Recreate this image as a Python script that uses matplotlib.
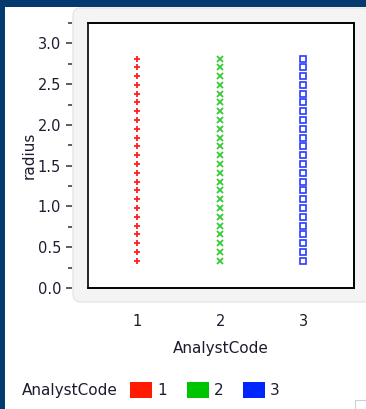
import matplotlib
matplotlib.use('Agg')
import matplotlib.pyplot as plt
from matplotlib.patches import Rectangle, FancyBboxPatch, Patch
from matplotlib.ticker import MultipleLocator

# data
codes = [1, 2, 3]
code_labels = ['1', '2', '3']
radius = [0.33, 0.44, 0.55, 0.66, 0.76, 0.87, 0.98, 1.09, 1.20, 1.30, 1.41, 1.52,
          1.63, 1.74, 1.84, 1.95, 2.06, 2.17, 2.28, 2.38, 2.49, 2.60, 2.71, 2.81]
markers = ['+', 'x', 's']
marker_colors = ['#ff2020', '#33cc33', '#2a3cff']
legend_colors = ['#ff1a00', '#00c400', '#0026ff']

W, H = 366, 409
fig = plt.figure(figsize=(W / 100, H / 100), dpi=100)
fig.patch.set_facecolor('#053a6e')

def fx(px):
    return px / W

def fy(py):
    return 1 - py / H

# white page and grey rounded panel (below the axes)
fig.patches.append(Rectangle((fx(5), 0), 1, fy(7), transform=fig.transFigure,
                             facecolor='white', edgecolor='none', zorder=-3))
fig.patches.append(FancyBboxPatch((fx(73), fy(302)), fx(310), (302 - 8) / H,
                                  boxstyle='round,pad=0,rounding_size=0.02',
                                  transform=fig.transFigure, facecolor='#f4f4f4',
                                  edgecolor='#e2e2e2', lw=0.8, zorder=-2))
fig.patches.append(Rectangle((fx(355), 0), fx(12), 9 / H, transform=fig.transFigure,
                             facecolor='none', edgecolor='#d0d0d0', lw=0.8, zorder=-1))

ax = fig.add_axes([fx(88), fy(288), 266 / W, 265 / H])
ax.set_facecolor('white')

for c, m, col in zip(codes, markers, marker_colors):
    xs = [c] * len(radius)
    if m == 's':
        ax.plot(xs, radius, ls='none', marker=m, ms=4.2, mfc='none', mec=col, mew=1.2)
    else:
        ax.plot(xs, radius, ls='none', marker=m, ms=4.5, color=col, mew=1.3)

ax.set_xlim(0.41, 3.61)
ax.set_ylim(0, 3.25)

# frame of the plot box
for s in ['top', 'right', 'bottom']:
    ax.spines[s].set_color('black')
    ax.spines[s].set_linewidth(1.2)
ax.spines['left'].set_position(('outward', 11.5))
ax.spines['left'].set_visible(False)
ax.add_patch(Rectangle((0, 0), 1, 1, transform=ax.transAxes, fill=False,
                       edgecolor='black', lw=1.2, clip_on=False, zorder=5))

ax.yaxis.set_major_locator(MultipleLocator(0.5))
ax.yaxis.set_minor_locator(MultipleLocator(0.25))
ax.yaxis.set_major_formatter(matplotlib.ticker.FormatStrFormatter('%.1f'))
ax.tick_params(axis='y', which='major', length=4.3, width=1.1, color='#333333',
               labelsize=10.5, labelcolor='#1c1c30', pad=3.6)
ax.tick_params(axis='y', which='minor', length=2.9, width=1.1, color='#333333')

ax.set_xticks(codes)
ax.set_xticklabels(code_labels)
ax.tick_params(axis='x', length=0, labelsize=10.5, labelcolor='#1c1c30', pad=19)

ax.set_ylabel('radius', fontsize=11, color='#1c1c30')
ax.yaxis.set_label_coords(-0.195, 0.5)
ax.set_xlabel('AnalystCode', fontsize=11, color='#1c1c30', labelpad=8)

# legend
fig.text(fx(22), fy(391), 'AnalystCode', fontsize=11, color='#1c1c30',
         ha='left', va='center')
handles = [Patch(facecolor=c, edgecolor='none') for c in legend_colors]
fig.legend(handles, code_labels, loc='center left', bbox_to_anchor=(fx(130), fy(390)),
           ncol=3, frameon=False, fontsize=11, handlelength=1.44, handleheight=1.3,
           handletextpad=0.33, columnspacing=1.3, borderpad=0, borderaxespad=0,
           labelcolor='#1c1c30')

fig.savefig('out.png', dpi=100, facecolor=fig.get_facecolor())
